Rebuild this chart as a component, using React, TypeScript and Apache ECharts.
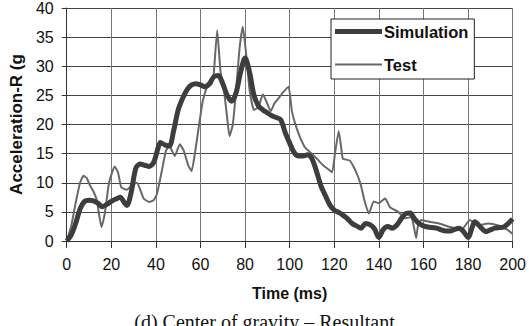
import React, { useEffect, useRef } from "react";
import * as echarts from "echarts";

const xTicks = [0, 20, 40, 60, 80, 100, 120, 140, 160, 180, 200];
const yTicks = [0, 5, 10, 15, 20, 25, 30, 35, 40];

const simTime = [0, 2, 4, 6, 8, 10, 12, 14, 16, 18, 20, 22, 24, 26, 27, 29, 31, 33, 35, 37, 39, 41, 42, 44, 46, 48, 50, 52, 54, 56, 58, 60, 62, 64, 66, 68, 70, 72, 74, 76, 78, 80, 82, 84, 86, 88, 90, 92, 94, 96, 98, 100, 102, 104, 106, 108, 110, 112, 114, 116, 118, 120, 122, 124, 126, 128, 130, 132, 134, 136, 138, 140, 142, 144, 146, 148, 150, 152, 154, 156, 158, 160, 162, 164, 166, 168, 170, 172, 174, 176, 178, 180, 182, 183, 186, 188, 190, 192, 194, 196, 198, 200];
const simValue = [0, 1, 3, 5.5, 6.8, 7, 6.9, 6.5, 5.9, 6.3, 6.8, 7.2, 7.5, 6.5, 6.1, 8.5, 12.5, 13.2, 13, 12.8, 13.5, 16, 16.9, 16.5, 16.3, 19, 22.5, 24.5, 26, 26.8, 27, 26.8, 26.5, 27, 28.2, 28.4, 27, 25, 24, 25.5, 29, 31.4, 29, 25, 23.2, 22.5, 22, 21.5, 21.2, 20.8, 18.6, 16.8, 15.2, 14.6, 14.6, 14.8, 14.1, 12, 9.5, 7.8, 6.2, 5.3, 4.9, 4.4, 3.8, 3, 2.6, 2.2, 3, 2.8, 2.1, 0.6, 2, 2.5, 2.2, 2.7, 3.8, 4.7, 4.8, 3.8, 3, 2.6, 2.4, 2.3, 2.2, 1.9, 1.7, 1.7, 2, 2.2, 1.6, 0.6, 2.5, 3.3, 2.2, 1.6, 1.9, 2.2, 2.3, 2.4, 3, 3.8];

const testTime = [0, 2, 4, 6, 7.5, 9, 10.5, 12, 13.5, 15.6, 17, 19, 21.5, 23, 24.5, 27, 29, 31.5, 34.5, 37, 39, 40.5, 42.7, 44.5, 46, 48.5, 50.7, 52.5, 54.5, 56, 57.5, 59, 61, 63, 65, 66, 67.5, 69, 70.5, 72, 73, 74.5, 76, 77.5, 79, 80.5, 82, 84, 86, 88, 89.5, 91.5, 93, 95, 97, 99.5, 101, 103, 105, 107, 109, 111, 113, 115, 117, 119, 120.5, 122, 123.8, 125, 127, 129, 130.5, 132, 133.5, 135.5, 137.7, 139.9, 142.8, 145, 148.7, 151.6, 154.5, 155.7, 156.7, 157.5, 159, 162.6, 167, 171, 177, 180.8, 184.5, 189, 193.3, 197.7, 200];
const testValue = [0, 2.5, 6.5, 10, 11.2, 10.8, 9.5, 8.5, 7, 2.4, 4.5, 10, 12.8, 11.8, 9.2, 8.8, 9.5, 10, 7.3, 6.7, 7, 8.1, 12.1, 15.5, 16.3, 14.6, 16.6, 15.5, 13, 12, 15, 19, 24, 26.5, 27, 29, 36.2, 29, 26, 21, 18, 20, 26, 33, 36.8, 32, 26, 22.5, 23, 25.2, 24, 22.3, 23.5, 24.5, 25.5, 26.5, 22.3, 19.5, 17.5, 16, 15.3, 14.6, 13.8, 13, 12.4, 11.8, 15.5, 18.9, 14.1, 14, 13.8, 12.5, 11.2, 9.5, 7, 4.7, 6.8, 6.5, 7.3, 5.8, 5, 3.9, 4.1, 2.5, 0.5, 2.5, 3.6, 3.3, 3, 2.5, 1.9, 3.6, 2.7, 3, 2.7, 1.9, 1.2];

const seriesNames = ["Simulation", "Test"];
const xTitle = "Time (ms)";
const yTitle = "Acceleration-R (g";
const caption = "(d) Center of gravity \u2013 Resultant";

const FONT = "'Liberation Sans', Arial, sans-serif";
const SIM_COLOR = "#3d3d3d";
const TEST_COLOR = "#686868";

export default function App() {
  const ref = useRef<HTMLDivElement>(null);
  useEffect(() => {
    if (!ref.current) return;
    const chart = echarts.init(ref.current, undefined, { renderer: "svg" });
    const simData = simTime.map((t, i) => [t, simValue[i]]);
    const testData = testTime.map((t, i) => [t, testValue[i]]);
    chart.setOption({
      animation: false,
      backgroundColor: "#ffffff",
      grid: { left: 66, top: 6, width: 456, height: 235, containLabel: false },
      legend: {
        orient: "vertical",
        left: 331,
        top: 19,
        width: 146,
        padding: [4, 6, 6, 4],
        itemGap: 16,
        itemWidth: 47,
        itemHeight: 14,
        backgroundColor: "#ffffff",
        borderColor: "#222",
        borderWidth: 1,
        borderRadius: 0,
        data: [
          { name: seriesNames[0], icon: "path://M0,0 L48,0 L48,5 L0,5 Z", itemStyle: { color: SIM_COLOR } },
          { name: seriesNames[1], icon: "path://M0,0 L46,0 L46,1.8 L0,1.8 Z", itemStyle: { color: TEST_COLOR } },
        ],
        textStyle: { fontFamily: FONT, fontWeight: "bold", fontSize: 16.5, color: "#111", padding: [0, 0, 0, -3] },
      },
      xAxis: {
        type: "value",
        min: 0,
        max: 200,
        interval: 20,
        name: xTitle,
        nameLocation: "middle",
        nameGap: 44,
        nameTextStyle: { fontFamily: FONT, fontWeight: "bold", fontSize: 16, color: "#111" },
        axisLine: { show: true, lineStyle: { color: "#333", width: 1 } },
        axisTick: { show: true, length: 7, lineStyle: { color: "#333" } },
        axisLabel: { fontFamily: FONT, fontSize: 16, color: "#111", margin: 15 },
        splitLine: { show: true, lineStyle: { color: "#777", width: 1 } },
      },
      yAxis: {
        type: "value",
        min: 0,
        max: 40,
        interval: 5,
        name: yTitle,
        nameLocation: "middle",
        nameRotate: 90,
        nameGap: 40,
        nameTextStyle: { fontFamily: FONT, fontWeight: "bold", fontSize: 17, color: "#111" },
        axisLine: { show: true, lineStyle: { color: "#333", width: 1 } },
        axisTick: { show: true, length: 5, lineStyle: { color: "#333" } },
        axisLabel: { fontFamily: FONT, fontSize: 16, color: "#111", margin: 13 },
        splitLine: { show: true, lineStyle: { color: "#444", width: 1 } },
      },
      series: [
        {
          name: seriesNames[0],
          type: "line",
          data: simData,
          smooth: 0.3,
          showSymbol: false,
          symbol: "none",
          lineStyle: { color: SIM_COLOR, width: 5 },
          itemStyle: { color: SIM_COLOR },
          z: 3,
        },
        {
          name: seriesNames[1],
          type: "line",
          data: testData,
          smooth: 0.15,
          showSymbol: false,
          symbol: "none",
          lineStyle: { color: TEST_COLOR, width: 2 },
          itemStyle: { color: TEST_COLOR },
          z: 2,
        },
      ],
      graphic: [
        {
          type: "text",
          left: "center",
          top: 312,
          style: { text: caption, font: "20px 'Liberation Serif', 'Times New Roman', serif", fill: "#111" },
        },
      ],
    });
    return () => chart.dispose();
  }, []);
  return (
    <div
      ref={ref}
      style={{ position: "fixed", left: 0, top: 0, width: 529, height: 326, background: "#fff" }}
    />
  );
}
